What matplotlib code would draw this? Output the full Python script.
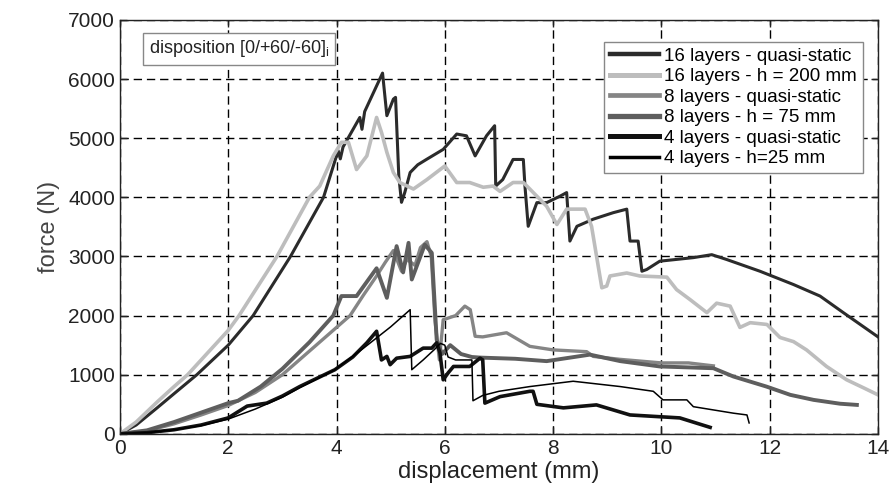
import matplotlib
matplotlib.use("Agg")
import matplotlib.pyplot as plt

plt.rcParams['font.family'] = ['Liberation Sans', 'DejaVu Sans']
plt.rcParams['mathtext.default'] = 'regular'

# ---- data ----
x16_qs = [0, 0.3, 0.7, 1.0, 1.42, 2.0, 2.46, 3.15, 3.76, 4.03, 4.07, 4.12, 4.43, 4.47, 4.52, 4.85,
          4.93, 5.05, 5.09, 5.15, 5.20, 5.26, 5.36, 5.5, 5.66, 5.97, 6.22, 6.40, 6.56, 6.77, 6.92,
          6.94, 7.07, 7.26, 7.45, 7.48, 7.54, 7.70, 7.88, 8.13, 8.25, 8.31, 8.44, 8.74, 9.11, 9.36,
          9.42, 9.57, 9.64, 9.73, 9.97, 10.59, 10.93, 11.2, 11.82, 12.44, 12.93, 13.36, 14.0]
y16_qs = [0, 150, 450, 680, 1000, 1500, 2000, 3000, 4000, 4790, 4650, 4850, 5350, 5150, 5450, 6100,
          5380, 5660, 5690, 4360, 3915, 4080, 4420, 4550, 4640, 4810, 5070, 5040, 4700, 5040, 5210,
          4190, 4300, 4640, 4640, 4190, 3510, 3910, 3910, 4020, 4080, 3260, 3510, 3630, 3740, 3800,
          3260, 3260, 2750, 2780, 2920, 2980, 3030, 2950, 2750, 2525, 2330, 2050, 1640]

x16_h = [0, 0.3, 0.7, 1.0, 1.25, 2.0, 2.2, 2.9, 3.5, 3.69, 3.94, 4.09, 4.22, 4.37, 4.56, 4.74, 4.83,
         4.93, 5.05, 5.17, 5.42, 5.67, 6.0, 6.22, 6.46, 6.71, 6.89, 7.02, 7.26, 7.45, 7.57, 7.88,
         8.07, 8.25, 8.59, 8.71, 8.90, 8.99, 9.05, 9.36, 9.60, 10.10, 10.28, 10.53, 10.84, 11.02,
         11.27, 11.45, 11.64, 11.95, 12.19, 12.44, 12.68, 13.05, 13.42, 13.73, 14.0]
y16_h = [0, 200, 550, 800, 1000, 1750, 2000, 3000, 4000, 4190, 4700, 4930, 4930, 4470, 4700, 5350, 5100,
         4760, 4420, 4250, 4140, 4300, 4530, 4250, 4250, 4170, 4190, 4100, 4250, 4250, 4140, 3850,
         3540, 3800, 3800, 3510, 2470, 2500, 2670, 2720, 2670, 2650, 2440, 2270, 2050, 2210,
         2160, 1800, 1880, 1850, 1630, 1560, 1420, 1140, 915, 780, 660]

x8_qs = [0, 0.5, 1.0, 1.5, 2.0, 2.5, 3.0, 3.5, 4.0, 4.25, 4.5, 4.74, 4.9, 5.05, 5.2, 5.3, 5.45, 5.55,
         5.67, 5.75, 5.82, 5.9, 5.97, 6.2, 6.37, 6.47, 6.56, 6.7, 7.14, 7.57, 8.0, 8.62, 8.74, 9.24,
         10.0, 10.5, 10.96]
y8_qs = [0, 50, 170, 320, 480, 700, 1000, 1400, 1800, 2000, 2350, 2670, 2900, 3100, 2750, 2950, 2850, 3150,
         3250, 3000, 1900, 1250, 1930, 2000, 2160, 2100, 1650, 1640, 1710, 1480, 1420, 1390, 1310, 1260,
         1200, 1200, 1150]

x8_h = [0, 0.5, 1.0, 1.5, 2.0, 2.18, 2.6, 3.0, 3.5, 3.94, 4.09, 4.37, 4.74, 4.93, 5.11, 5.23, 5.33,
        5.39, 5.63, 5.76, 5.85, 5.95, 6.1, 6.3, 6.5, 6.65, 7.3, 7.88, 8.68, 9.24, 9.97, 10.96, 11.33,
        11.94, 12.38, 12.81, 13.30, 13.61]
y8_h = [0, 60, 200, 360, 520, 560, 800, 1100, 1550, 2000, 2330, 2330, 2800, 2300, 3175, 2730, 3230,
        2610, 3200, 3060, 1590, 1350, 1500, 1350, 1300, 1290, 1270, 1230, 1340, 1230, 1140, 1110, 970,
        800, 660, 575, 510, 490]

x4_qs = [0, 0.5, 1.0, 1.5, 2.0, 2.35, 2.71, 3.0, 3.32, 3.97, 4.3, 4.56, 4.74, 4.83, 4.93, 4.99, 5.11,
         5.36, 5.60, 5.76, 5.85, 5.91, 5.97, 6.06, 6.16, 6.46, 6.65, 6.70, 6.74, 7.02, 7.57, 7.63, 7.70,
         8.19, 8.8, 9.42, 10.34, 10.9]
y4_qs = [0, 20, 70, 150, 270, 470, 520, 640, 800, 1085, 1300, 1540, 1735, 1250, 1310, 1170, 1280,
         1310, 1450, 1450, 1540, 1370, 915, 1030, 1140, 1140, 1280, 1250, 520, 630, 720, 720, 500,
         440, 490, 320, 270, 110]

x4_h = [0, 0.5, 1.0, 1.5, 2.0, 2.5, 3.0, 3.32, 3.97, 4.5, 5.0, 5.36, 5.39, 5.6, 5.8, 5.92, 6.0, 6.06,
        6.2, 6.5, 6.52, 6.7, 7.0, 7.57, 8.37, 9.24, 9.85, 10.03, 10.47, 10.59, 11.33, 11.58, 11.62]
y4_h = [0, 20, 70, 140, 250, 420, 620, 780, 1085, 1450, 1810, 2100, 1085, 1250, 1420, 1530, 1500, 1300,
        1250, 1250, 560, 650, 720, 800, 890, 800, 720, 575, 575, 460, 350, 320, 185]

labels = ['16 layers - quasi-static', '16 layers - h = 200 mm', '8 layers - quasi-static',
          '8 layers - h = 75 mm', '4 layers - quasi-static', '4 layers - h=25 mm']

xticks = [0, 2, 4, 6, 8, 10, 12, 14]
yticks = [0, 1000, 2000, 3000, 4000, 5000, 6000, 7000]

# ---- figure ----
fig = plt.figure(figsize=(8.95, 4.97), dpi=100)
ax = fig.add_axes([0.134, 0.127, 0.847, 0.833])

series = [
    (x16_qs, y16_qs, '#2b2b2b', 2.2),
    (x16_h, y16_h, '#bdbdbd', 2.6),
    (x8_qs, y8_qs, '#858585', 2.4),
    (x8_h, y8_h, '#5e5e5e', 2.8),
    (x4_qs, y4_qs, '#111111', 2.6),
    (x4_h, y4_h, '#000000', 1.1),
]
for (xs, ys, c, lw), lab in zip(series, labels):
    ax.plot(xs, ys, color=c, lw=lw, label=lab, solid_joinstyle='round')

ax.set_xlim(0, 14)
ax.set_ylim(0, 7000)
ax.set_xticks(xticks)
ax.set_yticks(yticks)
ax.grid(True, color='black', linestyle=(0, (6, 3.5)), linewidth=1.0)
ax.set_axisbelow(True)
ax.tick_params(direction='in', length=5, width=1, labelsize=15, top=True, right=True,
               colors='#222222')
for s in ax.spines.values():
    s.set_color('#222222')
    s.set_linewidth(1)

ax.set_xlabel('displacement (mm)', fontsize=17, color='#222222', labelpad=2)
ax.set_ylabel('force (N)', fontsize=17, color='#444444', labelpad=6)

leg = ax.legend(loc='upper right', bbox_to_anchor=(0.98, 0.947), borderaxespad=0,
                fontsize=13.5, handlelength=2.6, handletextpad=0.3, labelspacing=0.18,
                borderpad=0.3, fancybox=False, framealpha=1, edgecolor='#888888')
leg.get_frame().set_linewidth(1)
for h in leg.get_lines():
    h.set_linewidth(max(h.get_linewidth(), 1.5) + 1.0)

ax.text(0.038, 0.93, r'disposition [0/+60/-60]$_{i}$', transform=ax.transAxes,
        fontsize=13, va='center', ha='left', color='#222222',
        bbox=dict(boxstyle='square,pad=0.3', fc='white', ec='#888888', lw=1))

fig.savefig('out.png', dpi=100)
